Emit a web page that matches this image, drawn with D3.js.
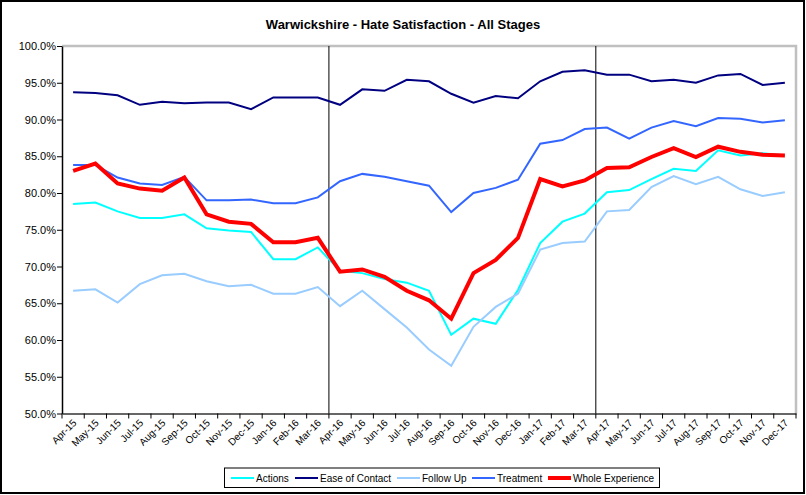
<!DOCTYPE html>
<html>
<head>
<meta charset="utf-8">
<script src="https://cdn.jsdelivr.net/npm/d3@7"></script>
<style>
  body { margin: 0; background: #fff; }
  svg { font-family: "Liberation Sans", Arial, sans-serif; }
</style>
</head>
<body>
<svg id="chart" width="806" height="495"></svg>
<script>
var months = ["Apr-15","May-15","Jun-15","Jul-15","Aug-15","Sep-15","Oct-15","Nov-15","Dec-15","Jan-16","Feb-16","Mar-16",
  "Apr-16","May-16","Jun-16","Jul-16","Aug-16","Sep-16","Oct-16","Nov-16","Dec-16","Jan-17","Feb-17","Mar-17",
  "Apr-17","May-17","Jun-17","Jul-17","Aug-17","Sep-17","Oct-17","Nov-17","Dec-17"];

var actions = [78.5,78.7,77.5,76.6,76.6,77.1,75.2,74.9,74.7,71.0,71.0,72.6,
  69.4,69.1,68.3,67.8,66.7,60.7,62.9,62.2,66.8,73.2,76.1,77.2,
  80.1,80.4,81.9,83.3,83.0,85.8,85.1,85.4,85.1];
var easeOfContact = [93.7,93.6,93.3,92.0,92.4,92.2,92.3,92.3,91.4,93.0,93.0,93.0,
  92.0,94.1,93.9,95.4,95.2,93.5,92.3,93.2,92.9,95.2,96.5,96.7,
  96.1,96.1,95.2,95.4,95.0,96.0,96.2,94.7,95.0];
var followUp = [66.7,66.9,65.1,67.6,68.8,69.0,68.0,67.3,67.5,66.3,66.3,67.2,
  64.6,66.7,64.2,61.7,58.7,56.5,61.8,64.5,66.3,72.3,73.2,73.4,
  77.5,77.7,80.8,82.3,81.2,82.2,80.5,79.6,80.1];
var treatment = [83.8,83.8,82.1,81.3,81.1,82.2,79.0,79.0,79.1,78.6,78.6,79.4,
  81.6,82.6,82.2,81.6,81.0,77.4,80.0,80.7,81.8,86.7,87.2,88.7,
  88.9,87.4,88.9,89.8,89.1,90.2,90.1,89.6,89.9];
var wholeExperience = [83.0,84.0,81.3,80.6,80.3,82.1,77.1,76.1,75.8,73.3,73.3,73.9,
  69.3,69.6,68.6,66.7,65.4,62.9,69.1,70.9,73.9,81.9,80.9,81.7,
  83.4,83.5,84.9,86.1,84.9,86.3,85.6,85.2,85.1];

var yTicks = [50,55,60,65,70,75,80,85,90,95,100];
var yearBreaks = ["Apr-16","Apr-17"];

var series = [
  { name: "Actions", values: actions, color: "#00ffff", width: 2 },
  { name: "Ease of Contact", values: easeOfContact, color: "#000080", width: 2 },
  { name: "Follow Up", values: followUp, color: "#99ccff", width: 2 },
  { name: "Treatment", values: treatment, color: "#3366ff", width: 2 },
  { name: "Whole Experience", values: wholeExperience, color: "#ff0000", width: 4 }
];

var svg = d3.select("#chart");
var plotLeft = 62, plotRight = 796, plotTop = 46, plotBottom = 413.5;

// outer frame
svg.append("rect").attr("x", 1).attr("y", 1).attr("width", 803).attr("height", 492)
  .attr("fill", "#fff").attr("stroke", "#000").attr("stroke-width", 2);

svg.append("text").attr("x", 403).attr("y", 29).attr("text-anchor", "middle")
  .style("font-size", "13px").style("font-weight", "bold").text("Warwickshire - Hate Satisfaction - All Stages");

var x = d3.scaleBand().domain(months).range([plotLeft, plotRight]).padding(0);
var y = d3.scaleLinear().domain([50, 100]).range([plotBottom, plotTop]);
var bw = x.bandwidth();

// plot area border (grey top/right)
svg.append("path").attr("d", "M" + plotLeft + "," + plotTop + "H" + plotRight + "V" + plotBottom)
  .attr("fill", "none").attr("stroke", "#c0c0c0").attr("stroke-width", 2.5);

// year break lines
svg.selectAll("line.brk").data(yearBreaks).enter().append("line")
  .attr("x1", d => x(d)).attr("x2", d => x(d)).attr("y1", plotTop).attr("y2", plotBottom)
  .attr("stroke", "#000").attr("stroke-width", 1);

// y axis
var yAxis = svg.append("g").attr("transform", "translate(" + plotLeft + ",0)")
  .call(d3.axisLeft(y).tickValues(yTicks).tickSize(5).tickSizeOuter(0).tickFormat(d => d.toFixed(1) + "%"));
yAxis.select(".domain").attr("stroke", "#000").attr("stroke-width", 1.5);
yAxis.selectAll("text").style("font-size", "11px").attr("x", -6).attr("fill", "#000");

// x axis
var xAxis = svg.append("g").attr("transform", "translate(0," + plotBottom + ")")
  .call(d3.axisBottom(x).tickSize(0).tickSizeOuter(0));
xAxis.select(".domain").attr("stroke", "#333").attr("stroke-width", 1.5);
xAxis.selectAll(".tick line").remove();
xAxis.selectAll("text")
  .style("font-size", "10px").style("text-anchor", "end").attr("fill", "#000")
  .attr("dx", "0").attr("dy", "0").attr("y", 0)
  .attr("transform", "translate(4,10) rotate(-45)");
svg.append("g").selectAll("line").data(months.concat(["end"])).enter().append("line")
  .attr("x1", (d, i) => plotLeft + i * bw).attr("x2", (d, i) => plotLeft + i * bw)
  .attr("y1", plotBottom).attr("y2", plotBottom + 5).attr("stroke", "#000");

// series lines
var line = d3.line().x((d, i) => x(months[i]) + bw / 2).y(d => y(d));
svg.selectAll("path.series").data(series).enter().append("path")
  .attr("class", "series")
  .attr("d", d => line(d.values))
  .attr("fill", "none").attr("stroke", d => d.color).attr("stroke-width", d => d.width)
  .attr("stroke-linejoin", "miter");

// legend
svg.append("rect").attr("x", 224.5).attr("y", 468).attr("width", 435).attr("height", 19.5)
  .attr("fill", "#fff").attr("stroke", "#000").attr("stroke-width", 1);
var legendX = [231, 295, 397, 472, 548];
var lg = svg.selectAll("g.leg").data(series).enter().append("g")
  .attr("transform", (d, i) => "translate(" + legendX[i] + ",478)");
lg.append("line").attr("x1", 0).attr("x2", 23).attr("y1", 0).attr("y2", 0)
  .attr("stroke", d => d.color).attr("stroke-width", d => d.width);
lg.append("text").attr("x", 25).attr("y", 4).style("font-size", "10px").text(d => d.name);
</script>
</body>
</html>
